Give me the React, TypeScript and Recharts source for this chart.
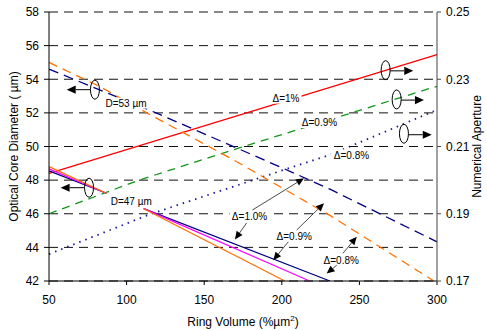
import React from 'react'
import {
  LineChart,
  Line,
  XAxis,
  YAxis,
  CartesianGrid,
  ReferenceLine,
  ReferenceDot,
} from 'recharts'

// ring volume axis (%um^2)
const ringVolumeTicks = [50, 100, 150, 200, 250, 300]
const diameterTicks = [42, 44, 46, 48, 50, 52, 54, 56, 58]
const apertureTicks = [0.17, 0.19, 0.21, 0.23, 0.25]

// numerical aperture curves (right axis)
const naDelta10: [number, number][] = [[50, 0.202], [300, 0.2373]]
const naDelta09: [number, number][] = [[50, 0.19], [108, 0.2], [172, 0.2095], [297, 0.2275], [300, 0.2279]]
const naDelta08: [number, number][] = [[50, 0.178], [116, 0.19], [201, 0.203], [231, 0.2075], [298, 0.2205]]

// core diameter, D=53um family (left axis)
const d53Delta10: [number, number][] = [[50, 54.6], [85, 53.28], [119, 52.0], [201, 48.7], [231, 47.46], [300, 44.33]]
const d53Delta08: [number, number][] = [[50, 55.0], [83, 53.55], [115, 51.9], [169, 49.2], [231, 45.9], [298, 42.0]]

// core diameter, D=47um family (left axis), broken under the label
const d47Navy: [number, number | null][] = [[50, 48.55], [87, 47.22], [100, null], [111, 46.3], [231, 42]]
const d47Magenta: [number, number | null][] = [[50, 48.67], [87, 47.22], [100, null], [111, 46.3], [218, 42]]
const d47Orange: [number, number | null][] = [[50, 48.8], [87, 47.22], [100, null], [111, 46.3], [202, 42]]

const toPoints = (arr: [number, number | null][]) => arr.map(([x, y]) => ({ x, y }))

const FONT = "'Liberation Sans', Arial, sans-serif"

const arrowShape = (width: number, head: number) => (props: any) => {
  const { x1, y1, x2, y2 } = props
  const a = Math.atan2(y2 - y1, x2 - x1)
  const hw = head * 0.45
  const bx = x2 - head * Math.cos(a)
  const by = y2 - head * Math.sin(a)
  const p1 = `${bx + hw * Math.sin(a)},${by - hw * Math.cos(a)}`
  const p2 = `${bx - hw * Math.sin(a)},${by + hw * Math.cos(a)}`
  return (
    <g>
      <line x1={x1} y1={y1} x2={bx} y2={by} stroke="#000" strokeWidth={width} />
      <polygon points={`${x2},${y2} ${p1} ${p2}`} fill="#000" />
    </g>
  )
}

const ellipseShape = (props: any) => (
  <ellipse cx={props.cx} cy={props.cy} rx={4.5} ry={9.5} fill="none" stroke="#000" strokeWidth={1} />
)

const textShape = (text: string, bg: boolean, w: number) => (props: any) => (
  <g>
    {bg && <rect x={props.cx - w / 2 - 2} y={props.cy - 5.5} width={w + 4} height={11} fill="#fff" />}
    <text x={props.cx} y={props.cy} dy="0.36em" textAnchor="middle" fontSize={10} fontFamily={FONT} fill="#000">
      {text}
    </text>
  </g>
)

// annotation labels [text, x, y, axis, white background, width]
const labels: [string, number, number, string, boolean, number][] = [
  ['D=53 µm', 99.6, 52.58, 'left', true, 41],
  ['D=47 µm', 103, 46.73, 'left', false, 41],
  ['Δ=1%', 202.7, 52.88, 'left', true, 27],
  ['Δ=0.9%', 224.3, 51.43, 'left', true, 37],
  ['Δ=0.8%', 244.9, 49.5, 'left', true, 37],
  ['Δ=1.0%', 179.2, 45.84, 'left', true, 36],
  ['Δ=0.9%', 208, 44.68, 'left', false, 37],
  ['Δ=0.8%', 238.3, 43.24, 'left', false, 37],
]

const ellipses: [number, number, string][] = [
  [79.6, 53.38, 'left'],
  [75.8, 47.55, 'left'],
  [266.9, 0.2327, 'right'],
  [274, 0.224, 'right'],
  [278.7, 0.2138, 'right'],
]

// [x1, y1, x2, y2, axis, lineWidth, headSize]
const arrows: [number, number, number, number, string, number, number][] = [
  [76.5, 53.38, 61.4, 53.38, 'left', 1, 9],
  [72.9, 47.55, 57.5, 47.55, 'left', 1, 9],
  [269.8, 0.2325, 284.7, 0.2325, 'right', 1, 9],
  [276.9, 0.2238, 291.6, 0.2238, 'right', 1, 9],
  [281.6, 0.2135, 296.6, 0.2135, 'right', 1, 9],
  [181, 46.22, 214.3, 48.11, 'left', 0.7, 8],
  [177.4, 45.46, 169.8, 44.47, 'left', 0.7, 8],
  [209.6, 45.03, 227.2, 46.62, 'left', 0.7, 8],
  [204.2, 44.33, 194.5, 43.24, 'left', 0.7, 8],
  [239.4, 43.65, 248.3, 44.63, 'left', 0.7, 8],
  [235.4, 42.94, 228.9, 42.44, 'left', 0.7, 8],
]

const tickStyle = { fontSize: 12, fontFamily: FONT, fill: '#000' }

export default function App() {
  return (
    <div style={{ position: 'absolute', left: 0, top: 0, background: '#fff' }}>
      <LineChart width={487} height={330} margin={{ top: 12, right: 0, bottom: 0, left: 0 }}>
        <CartesianGrid yAxisId="left" vertical={false} stroke="#111" strokeDasharray="9 6" />
        <XAxis
          dataKey="x"
          type="number"
          domain={[50, 300]}
          ticks={ringVolumeTicks}
          allowDuplicatedCategory={false}
          height={49}
          tick={tickStyle}
          tickSize={4}
          tickMargin={10}
          stroke="#000"
          label={({ viewBox }: any) => (
            <text x={viewBox.x + viewBox.width / 2} y={325.5} textAnchor="middle" fontSize={12} fontFamily={FONT} fill="#000">
              Ring Volume (%µm<tspan dy={-5} fontSize={8}>2</tspan><tspan dy={5}>)</tspan>
            </text>
          )}
        />
        <YAxis
          yAxisId="left"
          type="number"
          domain={[42, 58]}
          ticks={diameterTicks}
          width={49}
          tick={tickStyle}
          tickSize={5}
          tickMargin={5}
          stroke="#000"
          label={({ viewBox }: any) => (
            <text
              x={14}
              y={viewBox.y + viewBox.height / 2}
              transform={`rotate(-90 14 ${viewBox.y + viewBox.height / 2})`}
              textAnchor="middle"
              dy="0.35em"
              fontSize={12}
              fontFamily={FONT}
              fill="#000"
            >
              Optical Core Diameter ( µm)
            </text>
          )}
        />
        <YAxis
          yAxisId="right"
          orientation="right"
          type="number"
          domain={[0.17, 0.25]}
          ticks={apertureTicks}
          width={50}
          tick={tickStyle}
          tickSize={4}
          tickMargin={5}
          tickFormatter={(v: number) => v.toFixed(2)}
          stroke="#444"
          label={({ viewBox }: any) => (
            <text
              x={477}
              y={viewBox.y + viewBox.height / 2}
              transform={`rotate(-90 477 ${viewBox.y + viewBox.height / 2})`}
              textAnchor="middle"
              dy="0.35em"
              fontSize={12}
              fontFamily={FONT}
              fill="#000"
            >
              Numerical Aperture
            </text>
          )}
        />

        <Line yAxisId="right" data={toPoints(naDelta10)} dataKey="y" stroke="#ff0000" strokeWidth={1.3} dot={false} activeDot={false} isAnimationActive={false} />
        <Line yAxisId="right" data={toPoints(naDelta09)} dataKey="y" stroke="#12961a" strokeWidth={1.3} strokeDasharray="8 6" dot={false} activeDot={false} isAnimationActive={false} />
        <Line yAxisId="right" data={toPoints(naDelta08)} dataKey="y" stroke="#1a1aa0" strokeWidth={1.8} strokeDasharray="1.5 5" dot={false} activeDot={false} isAnimationActive={false} />

        <Line yAxisId="left" data={toPoints(d53Delta10)} dataKey="y" stroke="#000080" strokeWidth={1.3} strokeDasharray="10 6" dot={false} activeDot={false} isAnimationActive={false} />
        <Line yAxisId="left" data={toPoints(d53Delta08)} dataKey="y" stroke="#ff7000" strokeWidth={1.3} strokeDasharray="9 6" dot={false} activeDot={false} isAnimationActive={false} />

        <Line yAxisId="left" data={toPoints(d47Navy)} dataKey="y" stroke="#000080" strokeWidth={1.3} dot={false} activeDot={false} isAnimationActive={false} />
        <Line yAxisId="left" data={toPoints(d47Magenta)} dataKey="y" stroke="#ff00ff" strokeWidth={1.3} dot={false} activeDot={false} isAnimationActive={false} />
        <Line yAxisId="left" data={toPoints(d47Orange)} dataKey="y" stroke="#ff7000" strokeWidth={1.3} dot={false} activeDot={false} isAnimationActive={false} />

        {labels.map(([t, x, y, axis, bg, w], i) => (
          <ReferenceDot key={`l${i}`} x={x} y={y} yAxisId={axis} r={0} ifOverflow="visible" shape={textShape(t, bg, w)} />
        ))}
        {ellipses.map(([x, y, axis], i) => (
          <ReferenceDot key={`e${i}`} x={x} y={y} yAxisId={axis} r={0} ifOverflow="visible" shape={ellipseShape} />
        ))}
        {arrows.map(([x1, y1, x2, y2, axis, w, h], i) => (
          <ReferenceLine
            key={`a${i}`}
            yAxisId={axis}
            segment={[{ x: x1, y: y1 }, { x: x2, y: y2 }]}
            ifOverflow="visible"
            shape={arrowShape(w, h)}
          />
        ))}
      </LineChart>
    </div>
  )
}
